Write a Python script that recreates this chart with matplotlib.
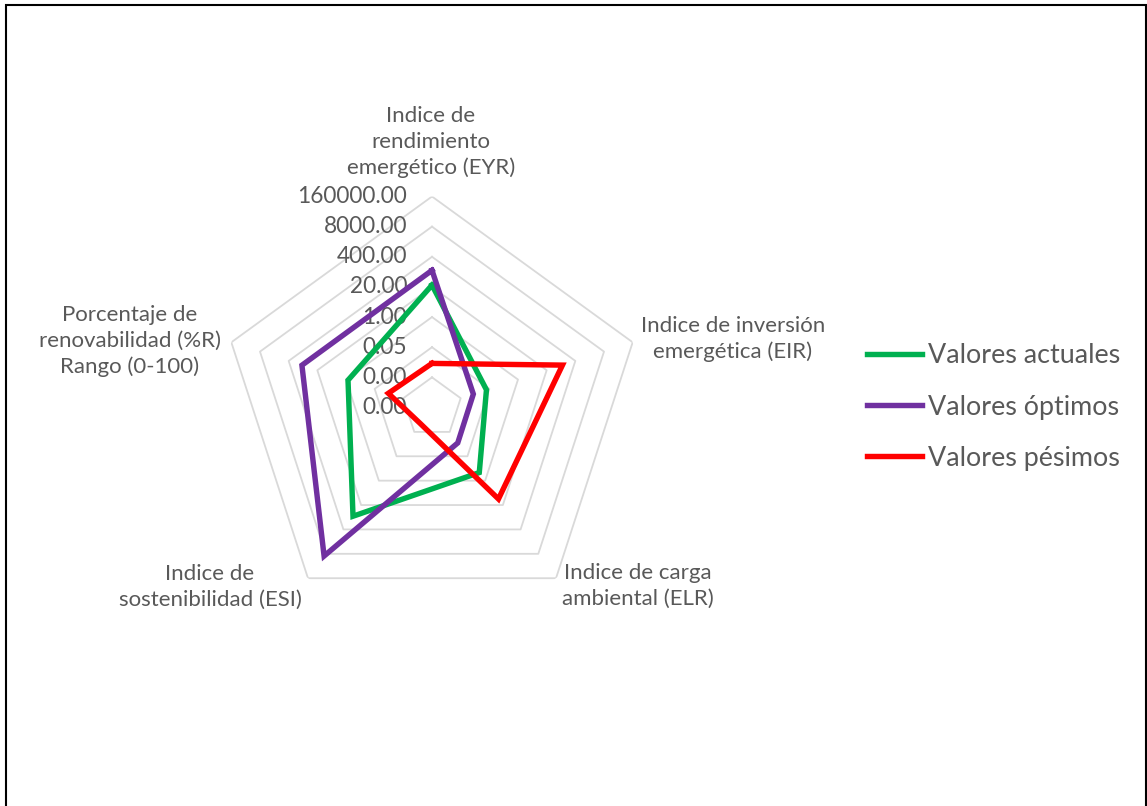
import numpy as np
import matplotlib
matplotlib.use("Agg")
import matplotlib.pyplot as plt
from matplotlib.patches import Rectangle
from matplotlib.transforms import ScaledTranslation

# Emergy indicators (radar axes, clockwise from the top)
categories = [
    "Indice de\nrendimiento\nemergético (EYR)",
    "Indice de inversión\nemergética (EIR)",
    "Indice de carga\nambiental (ELR)",
    "Indice de\nsostenibilidad (ESI)",
    "Porcentaje de\nrenovabilidad (%R)\nRango (0-100)",
]

series_names = ["Valores actuales", "Valores óptimos", "Valores pésimos"]
valores_actuales = [24.0, 0.037, 0.37, 79.0, 0.81]
valores_optimos = [104.0, 0.0094, 0.0097, 10500.0, 100.0]
valores_pesimos = [0.01, 104.0, 9.5, 0.0009, 0.012]

# Logarithmic value axis (base 20)
tick_values = [0.000125, 0.0025, 0.05, 1.0, 20.0, 400.0, 8000.0, 160000.0]
tick_labels = [f"{v:.2f}" for v in tick_values]

colors = ["#00B050", "#7030A0", "#FF0000"]
text_color = "#595959"
grid_color = "#D9D9D9"
font = ["Lato", "DejaVu Sans"]

plt.rcParams["font.family"] = font

W, H = 1147, 806
fig = plt.figure(figsize=(W / 100, H / 100), dpi=100)

cx, cy, R = 432, 407.5, 211
ax = fig.add_axes([(cx - R) / W, (H - cy - R) / H, 2 * R / W, 2 * R / H],
                  projection="polar")
ax.set_theta_zero_location("N")
ax.set_theta_direction(-1)
ax.set_rscale("log", base=20)
ax.set_rlim(tick_values[0], tick_values[-1])
ax.grid(False)
ax.set_xticks([])
ax.set_yticks([])
ax.spines["polar"].set_visible(False)
ax.patch.set_alpha(0)

n = len(categories)
angles = np.linspace(0, 2 * np.pi, n, endpoint=False)
closed = np.append(angles, angles[0])

# Pentagonal grid rings
for v in tick_values[1:]:
    ax.plot(closed, [v] * (n + 1), color=grid_color, lw=1.3, zorder=1)

# Value labels along the top axis
offset = ScaledTranslation(-25 / 100, 0, fig.dpi_scale_trans)
for v, lab in zip(tick_values, tick_labels):
    ax.text(0, v, lab, transform=ax.transData + offset, ha="right", va="center",
            fontsize=16.3, color=text_color, zorder=2)

# Data series
for name, vals, c in zip(series_names,
                         [valores_actuales, valores_optimos, valores_pesimos],
                         colors):
    ax.plot(closed, vals + vals[:1], color=c, lw=3.9, label=name, zorder=3,
            solid_joinstyle="miter")

# Category labels
label_pos = [(431, 142), (733, 339), (638, 586), (210, 587), (130, 341)]
for lab, (x, y) in zip(categories, label_pos):
    fig.text(x / W, 1 - y / H, lab, ha="center", va="center", fontsize=16,
             color=text_color, linespacing=1.35)

leg = fig.legend(loc="center left", bbox_to_anchor=(867 / W, 1 - 407 / H),
                 frameon=False, fontsize=19.4, handlelength=2.05,
                 handletextpad=0.2, labelspacing=0.97, borderaxespad=0,
                 borderpad=0)
for t in leg.get_texts():
    t.set_color(text_color)
for h in leg.get_lines():
    h.set_linewidth(3.9)

# Chart border
fig.add_artist(Rectangle((6 / W, -0.01), 1140 / W, 1.01 - 5 / H,
                         transform=fig.transFigure, fill=False,
                         edgecolor="black", lw=1.5))

fig.savefig("out.png", dpi=100)
